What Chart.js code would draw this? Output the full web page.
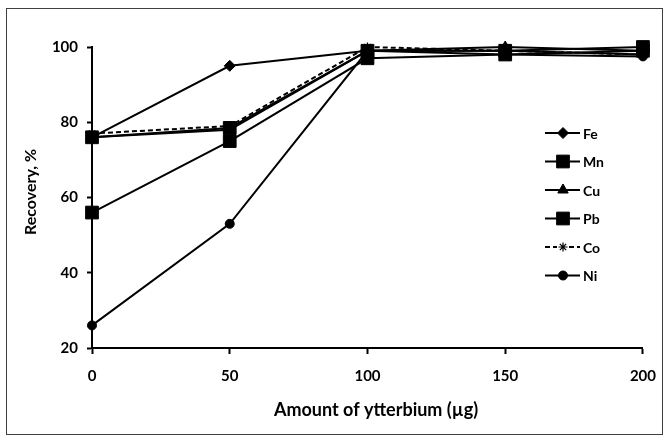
<!DOCTYPE html>
<html>
<head>
<meta charset="utf-8">
<script src="https://cdn.jsdelivr.net/npm/chart.js@4.4.1/dist/chart.umd.min.js"></script>
<style>
  html, body { margin: 0; padding: 0; background: #fff; }
  #wrap { width: 669px; height: 439px; position: relative; }
</style>
</head>
<body>
<div id="wrap"><canvas id="chart" width="669" height="439"></canvas></div>
<script>
// ytterbium amount (µg)
const amounts = [0, 50, 100, 150, 200];

// recovery, %
const fe = [76, 95, 99, 99, 98];
const mn = [56, 75, 97, 98, 99];
const cu = [76, 78, 99, 100, 99];
const pb = [76, 78.5, 99, 99, 100];
const co = [77, 79, 100, 99, 98];
const ni = [26, 53, 99, 98, 97.5];

const yTicks = [20, 40, 60, 80, 100];
const xTicks = [0, 50, 100, 150, 200];

const FONT = 'Lato, "Open Sans", sans-serif';

function pts(vals) {
  return vals.map((v, i) => ({ x: amounts[i], y: v }));
}

function series(label, vals, style, radius, extra) {
  return Object.assign({
    label: label,
    data: pts(vals),
    borderColor: '#000',
    backgroundColor: '#000',
    borderWidth: 2,
    pointStyle: style,
    pointRadius: radius,
    pointBorderWidth: 1,
    pointBorderColor: '#000',
    pointBackgroundColor: '#000',
    tension: 0,
    clip: false
  }, extra || {});
}

const datasets = [
  series('Fe', fe, 'rectRot', 5.5),
  series('Mn', mn, 'rect', 9),
  series('Cu', cu, 'triangle', 6),
  series('Pb', pb, 'rect', 9),
  series('Co', co, 'star', 4.5, { borderDash: [5, 3], pointBorderWidth: 1.2 }),
  series('Ni', ni, 'circle', 4.5)
];

// frame, axis titles and the legend inside the plot
const decorations = {
  id: 'decorations',
  beforeDraw(chart) {
    const ctx = chart.ctx;
    ctx.save();
    ctx.fillStyle = '#fff';
    ctx.fillRect(0, 0, chart.width, chart.height);
    ctx.strokeStyle = '#404040';
    ctx.lineWidth = 1;
    ctx.strokeRect(6.5, 8.5, 656, 426);
    ctx.restore();
  },
  afterDraw(chart) {
    const ctx = chart.ctx;
    ctx.save();
    ctx.fillStyle = '#000';
    ctx.textAlign = 'center';
    ctx.textBaseline = 'middle';
    ctx.font = 'bold 18px ' + FONT;
    ctx.fillText('Amount of ytterbium (µg)', 376, 410);
    ctx.font = 'bold 16px ' + FONT;
    ctx.translate(31, 192);
    ctx.rotate(-Math.PI / 2);
    ctx.fillText('Recovery, %', 0, 0);
    ctx.restore();

    // legend
    ctx.save();
    const x0 = 545, x1 = 580, mx = 563;
    let y = 133;
    chart.data.datasets.forEach(ds => {
      ctx.strokeStyle = '#000';
      ctx.lineWidth = ds.borderWidth;
      ctx.setLineDash(ds.borderDash || []);
      ctx.beginPath();
      ctx.moveTo(x0, y);
      ctx.lineTo(x1, y);
      ctx.stroke();
      ctx.setLineDash([]);
      ctx.fillStyle = '#000';
      ctx.lineWidth = ds.pointBorderWidth;
      if (ds.pointStyle === 'star') {
        ctx.fillStyle = '#fff';
        ctx.fillRect(mx - 6, y - 6, 12, 12);
        ctx.fillStyle = '#000';
      }
      Chart.helpers.drawPoint(ctx, { pointStyle: ds.pointStyle, radius: ds.pointRadius, borderWidth: ds.pointBorderWidth }, mx, y);
      ctx.font = 'bold 14px ' + FONT;
      ctx.textAlign = 'left';
      ctx.textBaseline = 'middle';
      ctx.fillText(ds.label, 583, y + 1);
      y += 28.5;
    });
    ctx.restore();
  }
};

new Chart(document.getElementById('chart'), {
  type: 'line',
  data: { datasets: datasets },
  options: {
    responsive: false,
    animation: false,
    layout: { padding: { top: 47, right: 26, left: 0, bottom: 0 } },
    plugins: { legend: { display: false }, tooltip: { enabled: false } },
    scales: {
      x: {
        type: 'linear',
        min: 0,
        max: 200,
        afterBuildTicks(scale) { scale.ticks = xTicks.map(v => ({ value: v })); },
        afterFit(scale) { scale.height = 91; },
        border: { display: true, color: '#000', width: 2 },
        grid: { drawOnChartArea: false, drawTicks: true, tickLength: 6, tickColor: '#000', tickWidth: 2 },
        ticks: { color: '#000', padding: 13, font: { family: FONT, size: 15, weight: 'bold' } }
      },
      y: {
        min: 20,
        max: 100,
        afterBuildTicks(scale) { scale.ticks = yTicks.map(v => ({ value: v })); },
        afterFit(scale) { scale.width = 92; },
        border: { display: true, color: '#000', width: 2 },
        grid: { drawOnChartArea: false, drawTicks: true, tickLength: 5, tickColor: '#000', tickWidth: 2 },
        ticks: { color: '#000', padding: 9, font: { family: FONT, size: 15, weight: 'bold' } }
      }
    }
  },
  plugins: [decorations]
});
</script>
</body>
</html>
